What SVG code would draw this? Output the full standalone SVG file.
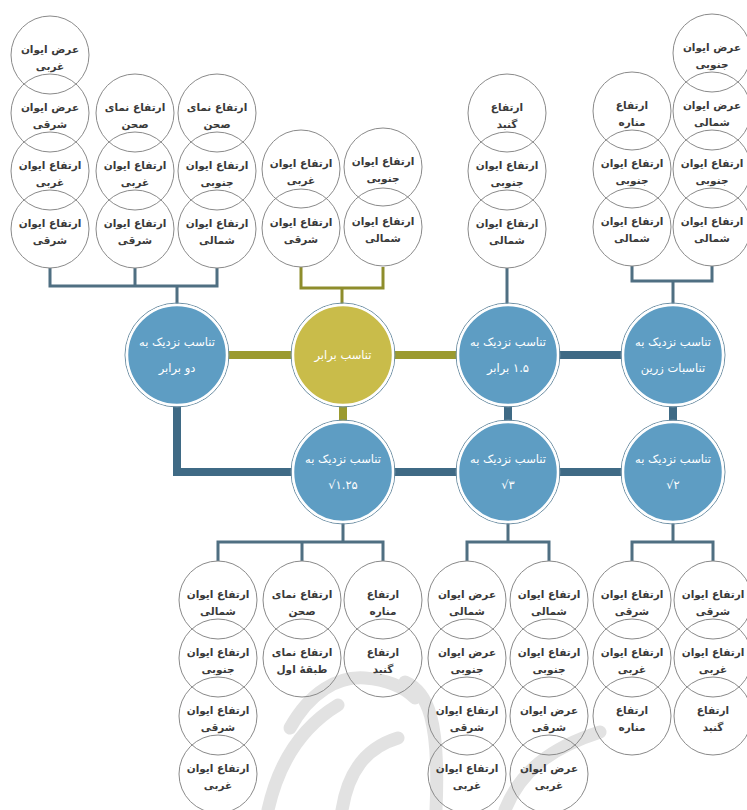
<svg xmlns="http://www.w3.org/2000/svg" width="747" height="810" viewBox="0 0 747 810">
<style>
.s{fill:none;stroke:#8a8a8a;stroke-width:1}
.t{font-family:"DejaVu Sans",sans-serif;font-size:10.5px;font-weight:bold;fill:#3a3a3a;text-anchor:middle}
.nt{font-family:"DejaVu Sans",sans-serif;font-size:11.5px;fill:#fff;text-anchor:middle}
.br{fill:none;stroke:#4f6f82;stroke-width:3}
.bry{fill:none;stroke:#8e8d2c;stroke-width:3}
.tb{fill:none;stroke:#3f6a85;stroke-width:8}
.ty{fill:none;stroke:#9b9a2f;stroke-width:8}
.nb{fill:#5e9dc3;stroke:#fff;stroke-width:2.5}
.ny{fill:#c9bc4a;stroke:#fff;stroke-width:2.5}
.no{fill:none;stroke:#6c8ea3;stroke-width:1}
</style>
<rect width="747" height="810" fill="#fff"/>
<g id="watermark" fill="none" stroke="#e2e2e2" stroke-width="13" stroke-linecap="round">
<path d="M268 810 C278 765 300 728 338 705"/>
<path d="M290 728 C310 692 338 676 365 678 C390 680 405 688 415 698"/>
<path d="M405 682 C428 692 440 720 436 810"/>
<path d="M342 810 C348 772 365 748 398 738"/>
<path d="M505 810 C520 772 550 748 600 732"/>
</g>
<g id="connectors">
<path class="br" d="M50 268V286H217V268M135 268V286M177 286V304"/>
<path class="bry" d="M301 267V288H383V267M342 288V304"/>
<path class="br" d="M507 268V304"/>
<path class="br" d="M632 266V281H712V266M673 281V304"/>
<path class="ty" d="M228 355H292M394 355H457M343 406V421"/>
<path class="tb" d="M559 355H622M508 406V421M673 406V421M394 472H457M559 472H622M177 406V472H292"/>
<path class="br" d="M343 523V542M218 561V542H383V561M302 542V561"/>
<path class="br" d="M508 523V542M467 561V542H549V561"/>
<path class="br" d="M673 523V542M632 561V542H713V561"/>
</g>
<g id="n-double"><circle cx="177" cy="355" r="52" class="no"/><circle cx="177" cy="355" r="50" class="nb"/><text class="nt" direction="rtl" x="177" y="346">تناسب نزدیک به</text><text class="nt" direction="rtl" x="177" y="372">دو برابر</text></g>
<g id="n-equal"><circle cx="343" cy="355" r="52" class="no"/><circle cx="343" cy="355" r="50" class="ny"/><text class="nt" direction="rtl" x="343" y="359">تناسب برابر</text></g>
<g id="n-15"><circle cx="508" cy="355" r="52" class="no"/><circle cx="508" cy="355" r="50" class="nb"/><text class="nt" direction="rtl" x="508" y="346">تناسب نزدیک به</text><text class="nt" direction="rtl" x="508" y="372">۱.۵ برابر</text></g>
<g id="n-golden"><circle cx="673" cy="355" r="52" class="no"/><circle cx="673" cy="355" r="50" class="nb"/><text class="nt" direction="rtl" x="673" y="346">تناسب نزدیک به</text><text class="nt" direction="rtl" x="673" y="372">تناسبات زرین</text></g>
<g id="n-sqrt125"><circle cx="343" cy="472" r="52" class="no"/><circle cx="343" cy="472" r="50" class="nb"/><text class="nt" direction="rtl" x="343" y="463">تناسب نزدیک به</text><text class="nt" direction="ltr" x="343" y="489">√۱.۲۵</text></g>
<g id="n-sqrt3"><circle cx="508" cy="472" r="52" class="no"/><circle cx="508" cy="472" r="50" class="nb"/><text class="nt" direction="rtl" x="508" y="463">تناسب نزدیک به</text><text class="nt" direction="ltr" x="508" y="489">√۳</text></g>
<g id="n-sqrt2"><circle cx="673" cy="472" r="52" class="no"/><circle cx="673" cy="472" r="50" class="nb"/><text class="nt" direction="rtl" x="673" y="463">تناسب نزدیک به</text><text class="nt" direction="ltr" x="673" y="489">√۲</text></g>

<g id="tl-1"><circle cx="50" cy="55" r="39" class="s"/><text class="t" direction="rtl" x="50" y="53">عرض ایوان</text><text class="t" direction="rtl" x="50" y="70">غربی</text></g>
<g id="tl-2"><circle cx="50" cy="113" r="39" class="s"/><text class="t" direction="rtl" x="50" y="111">عرض ایوان</text><text class="t" direction="rtl" x="50" y="128">شرقی</text></g>
<g id="tl-3"><circle cx="50" cy="171" r="39" class="s"/><text class="t" direction="rtl" x="50" y="169">ارتفاع ایوان</text><text class="t" direction="rtl" x="50" y="186">غربی</text></g>
<g id="tl-4"><circle cx="50" cy="229" r="39" class="s"/><text class="t" direction="rtl" x="50" y="227">ارتفاع ایوان</text><text class="t" direction="rtl" x="50" y="244">شرقی</text></g>
<g id="tl-5"><circle cx="135" cy="113" r="39" class="s"/><text class="t" direction="rtl" x="135" y="111">ارتفاع نمای</text><text class="t" direction="rtl" x="135" y="128">صحن</text></g>
<g id="tl-6"><circle cx="135" cy="171" r="39" class="s"/><text class="t" direction="rtl" x="135" y="169">ارتفاع ایوان</text><text class="t" direction="rtl" x="135" y="186">غربی</text></g>
<g id="tl-7"><circle cx="135" cy="229" r="39" class="s"/><text class="t" direction="rtl" x="135" y="227">ارتفاع ایوان</text><text class="t" direction="rtl" x="135" y="244">شرقی</text></g>
<g id="tl-8"><circle cx="217" cy="113" r="39" class="s"/><text class="t" direction="rtl" x="217" y="111">ارتفاع نمای</text><text class="t" direction="rtl" x="217" y="128">صحن</text></g>
<g id="tl-9"><circle cx="217" cy="171" r="39" class="s"/><text class="t" direction="rtl" x="217" y="169">ارتفاع ایوان</text><text class="t" direction="rtl" x="217" y="186">جنوبی</text></g>
<g id="tl-10"><circle cx="217" cy="229" r="39" class="s"/><text class="t" direction="rtl" x="217" y="227">ارتفاع ایوان</text><text class="t" direction="rtl" x="217" y="244">شمالی</text></g>

<g id="ty-1"><circle cx="301" cy="169" r="39" class="s"/><text class="t" direction="rtl" x="301" y="167">ارتفاع ایوان</text><text class="t" direction="rtl" x="301" y="184">غربی</text></g>
<g id="ty-2"><circle cx="301" cy="228" r="39" class="s"/><text class="t" direction="rtl" x="301" y="226">ارتفاع ایوان</text><text class="t" direction="rtl" x="301" y="243">شرقی</text></g>
<g id="ty-3"><circle cx="383" cy="167" r="39" class="s"/><text class="t" direction="rtl" x="383" y="165">ارتفاع ایوان</text><text class="t" direction="rtl" x="383" y="182">جنوبی</text></g>
<g id="ty-4"><circle cx="383" cy="227" r="39" class="s"/><text class="t" direction="rtl" x="383" y="225">ارتفاع ایوان</text><text class="t" direction="rtl" x="383" y="242">شمالی</text></g>

<g id="tm-1"><circle cx="507" cy="113" r="39" class="s"/><text class="t" direction="rtl" x="507" y="111">ارتفاع</text><text class="t" direction="rtl" x="507" y="128">گنبد</text></g>
<g id="tm-2"><circle cx="507" cy="171" r="39" class="s"/><text class="t" direction="rtl" x="507" y="169">ارتفاع ایوان</text><text class="t" direction="rtl" x="507" y="186">جنوبی</text></g>
<g id="tm-3"><circle cx="507" cy="229" r="39" class="s"/><text class="t" direction="rtl" x="507" y="227">ارتفاع ایوان</text><text class="t" direction="rtl" x="507" y="244">شمالی</text></g>

<g id="tr-1"><circle cx="632" cy="111" r="39" class="s"/><text class="t" direction="rtl" x="632" y="109">ارتفاع</text><text class="t" direction="rtl" x="632" y="126">مناره</text></g>
<g id="tr-2"><circle cx="632" cy="169" r="39" class="s"/><text class="t" direction="rtl" x="632" y="167">ارتفاع ایوان</text><text class="t" direction="rtl" x="632" y="184">جنوبی</text></g>
<g id="tr-3"><circle cx="632" cy="227" r="39" class="s"/><text class="t" direction="rtl" x="632" y="225">ارتفاع ایوان</text><text class="t" direction="rtl" x="632" y="242">شمالی</text></g>
<g id="tr-4"><circle cx="712" cy="53" r="39" class="s"/><text class="t" direction="rtl" x="712" y="51">عرض ایوان</text><text class="t" direction="rtl" x="712" y="68">جنوبی</text></g>
<g id="tr-5"><circle cx="712" cy="111" r="39" class="s"/><text class="t" direction="rtl" x="712" y="109">عرض ایوان</text><text class="t" direction="rtl" x="712" y="126">شمالی</text></g>
<g id="tr-6"><circle cx="712" cy="169" r="39" class="s"/><text class="t" direction="rtl" x="712" y="167">ارتفاع ایوان</text><text class="t" direction="rtl" x="712" y="184">جنوبی</text></g>
<g id="tr-7"><circle cx="712" cy="227" r="39" class="s"/><text class="t" direction="rtl" x="712" y="225">ارتفاع ایوان</text><text class="t" direction="rtl" x="712" y="242">شمالی</text></g>

<g id="bl-1"><circle cx="218" cy="600" r="39" class="s"/><text class="t" direction="rtl" x="218" y="598">ارتفاع ایوان</text><text class="t" direction="rtl" x="218" y="615">شمالی</text></g>
<g id="bl-2"><circle cx="218" cy="658" r="39" class="s"/><text class="t" direction="rtl" x="218" y="656">ارتفاع ایوان</text><text class="t" direction="rtl" x="218" y="673">جنوبی</text></g>
<g id="bl-3"><circle cx="218" cy="716" r="39" class="s"/><text class="t" direction="rtl" x="218" y="714">ارتفاع ایوان</text><text class="t" direction="rtl" x="218" y="731">شرقی</text></g>
<g id="bl-4"><circle cx="218" cy="774" r="39" class="s"/><text class="t" direction="rtl" x="218" y="772">ارتفاع ایوان</text><text class="t" direction="rtl" x="218" y="789">غربی</text></g>
<g id="bl-5"><circle cx="302" cy="600" r="39" class="s"/><text class="t" direction="rtl" x="302" y="598">ارتفاع نمای</text><text class="t" direction="rtl" x="302" y="615">صحن</text></g>
<g id="bl-6"><circle cx="302" cy="658" r="39" class="s"/><text class="t" direction="rtl" x="302" y="656">ارتفاع نمای</text><text class="t" direction="rtl" x="302" y="673">طبقهٔ اول</text></g>
<g id="bl-7"><circle cx="383" cy="600" r="39" class="s"/><text class="t" direction="rtl" x="383" y="598">ارتفاع</text><text class="t" direction="rtl" x="383" y="615">مناره</text></g>
<g id="bl-8"><circle cx="383" cy="658" r="39" class="s"/><text class="t" direction="rtl" x="383" y="656">ارتفاع</text><text class="t" direction="rtl" x="383" y="673">گنبد</text></g>

<g id="bm-1"><circle cx="467" cy="600" r="39" class="s"/><text class="t" direction="rtl" x="467" y="598">عرض ایوان</text><text class="t" direction="rtl" x="467" y="615">شمالی</text></g>
<g id="bm-2"><circle cx="467" cy="658" r="39" class="s"/><text class="t" direction="rtl" x="467" y="656">عرض ایوان</text><text class="t" direction="rtl" x="467" y="673">جنوبی</text></g>
<g id="bm-3"><circle cx="467" cy="716" r="39" class="s"/><text class="t" direction="rtl" x="467" y="714">ارتفاع ایوان</text><text class="t" direction="rtl" x="467" y="731">شرقی</text></g>
<g id="bm-4"><circle cx="467" cy="774" r="39" class="s"/><text class="t" direction="rtl" x="467" y="772">ارتفاع ایوان</text><text class="t" direction="rtl" x="467" y="789">غربی</text></g>
<g id="bm-5"><circle cx="549" cy="600" r="39" class="s"/><text class="t" direction="rtl" x="549" y="598">ارتفاع ایوان</text><text class="t" direction="rtl" x="549" y="615">شمالی</text></g>
<g id="bm-6"><circle cx="549" cy="658" r="39" class="s"/><text class="t" direction="rtl" x="549" y="656">ارتفاع ایوان</text><text class="t" direction="rtl" x="549" y="673">جنوبی</text></g>
<g id="bm-7"><circle cx="549" cy="716" r="39" class="s"/><text class="t" direction="rtl" x="549" y="714">عرض ایوان</text><text class="t" direction="rtl" x="549" y="731">شرقی</text></g>
<g id="bm-8"><circle cx="549" cy="774" r="39" class="s"/><text class="t" direction="rtl" x="549" y="772">عرض ایوان</text><text class="t" direction="rtl" x="549" y="789">غربی</text></g>

<g id="br-1"><circle cx="632" cy="600" r="39" class="s"/><text class="t" direction="rtl" x="632" y="598">ارتفاع ایوان</text><text class="t" direction="rtl" x="632" y="615">شرقی</text></g>
<g id="br-2"><circle cx="632" cy="658" r="39" class="s"/><text class="t" direction="rtl" x="632" y="656">ارتفاع ایوان</text><text class="t" direction="rtl" x="632" y="673">غربی</text></g>
<g id="br-3"><circle cx="632" cy="716" r="39" class="s"/><text class="t" direction="rtl" x="632" y="714">ارتفاع</text><text class="t" direction="rtl" x="632" y="731">مناره</text></g>
<g id="br-4"><circle cx="713" cy="600" r="39" class="s"/><text class="t" direction="rtl" x="713" y="598">ارتفاع ایوان</text><text class="t" direction="rtl" x="713" y="615">شرقی</text></g>
<g id="br-5"><circle cx="713" cy="658" r="39" class="s"/><text class="t" direction="rtl" x="713" y="656">ارتفاع ایوان</text><text class="t" direction="rtl" x="713" y="673">غربی</text></g>
<g id="br-6"><circle cx="713" cy="716" r="39" class="s"/><text class="t" direction="rtl" x="713" y="714">ارتفاع</text><text class="t" direction="rtl" x="713" y="731">گنبد</text></g>
</svg>
